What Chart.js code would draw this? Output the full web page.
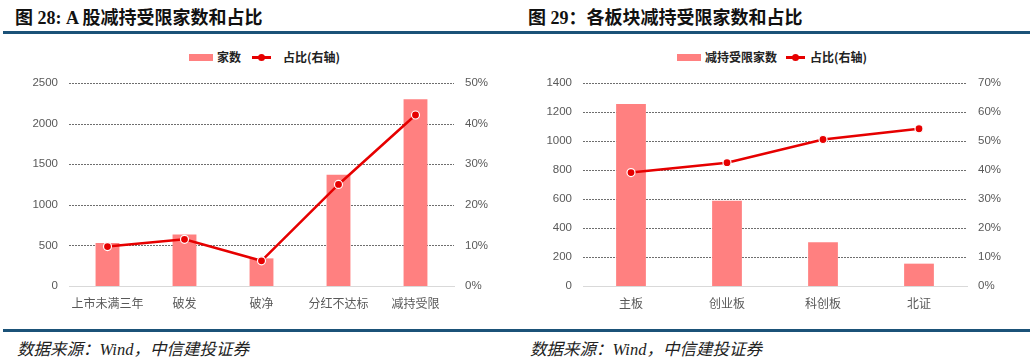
<!DOCTYPE html>
<html>
<head>
<meta charset="utf-8">
<script src="https://cdn.jsdelivr.net/npm/chart.js@4.4.1/dist/chart.umd.min.js"></script>
<style>
  body { margin: 0; width: 1033px; height: 360px; background: #fff; position: relative; overflow: hidden; }
  .rule { position: absolute; left: 3px; width: 1027px; height: 3px; background: #1b5278; }
  .title { position: absolute; top: 3px; font: bold 18px "Liberation Serif", "Noto Sans CJK SC", sans-serif; color: #111; white-space: nowrap; }
  .source { position: absolute; top: 336px; font: italic 16.5px "Liberation Serif", "Noto Sans CJK SC", serif; color: #222; white-space: nowrap; }
  .legend { position: absolute; top: 49px; font: bold 12px "Noto Sans CJK SC", sans-serif; color: #222; white-space: nowrap; line-height: 16px; }
  .swatch { position: absolute; top: 5px; width: 24px; height: 7px; background: #ff8080; }
  .lineKey { position: absolute; top: 7px; width: 19px; height: 2.5px; background: #e60000; }
  .lineKey::after { content: ""; position: absolute; left: 6px; top: -2.5px; width: 7px; height: 7px; border-radius: 50%; background: #e60000; }
  .ltext { position: absolute; top: 0; }
  canvas { position: absolute; top: 65px; }
</style>
</head>
<body>
<div class="rule" style="top:31px"></div>
<div class="rule" style="top:329px"></div>

<div class="title" style="left:15px">图 28: A 股减持受限家数和占比</div>
<div class="title" style="left:528px">图 29：各板块减持受限家数和占比</div>

<div class="legend" style="left:0">
  <div class="swatch" style="left:189px"></div><div class="ltext" style="left:217px">家数</div>
  <div class="lineKey" style="left:252px"></div><div class="ltext" style="left:283px">占比(右轴)</div>
</div>
<div class="legend" style="left:0">
  <div class="swatch" style="left:677px"></div><div class="ltext" style="left:705px">减持受限家数</div>
  <div class="lineKey" style="left:786px"></div><div class="ltext" style="left:810px">占比(右轴)</div>
</div>

<canvas id="chartA" width="520" height="255" style="left:0"></canvas>
<canvas id="chartB" width="513" height="255" style="left:520px"></canvas>

<div class="source" style="left:17px">数据来源：Wind，中信建投证券</div>
<div class="source" style="left:530px">数据来源：Wind，中信建投证券</div>

<script>
// 图 28
const categoriesA = ["上市未满三年", "破发", "破净", "分红不达标", "减持受限"];
const countsA = [530, 635, 340, 1370, 2300];
const ratiosA = [9.7, 11.5, 6.2, 25.0, 42.1];
const leftMaxA = 2500, leftStepA = 500;
const rightMaxA = 50, rightStepA = 10;

// 图 29
const categoriesB = ["主板", "创业板", "科创板", "北证"];
const countsB = [1255, 587, 302, 154];
const ratiosB = [39.1, 42.5, 50.5, 54.2];
const leftMaxB = 1400, leftStepB = 200;
const rightMaxB = 70, rightStepB = 10;

const tickFont = { family: "'Liberation Sans', Arial, sans-serif", size: 11.5 };
const labelFont = { family: "'Noto Sans CJK SC', sans-serif", size: 12 };

// dotted horizontal grid behind the bars, skipping the zero line
const dottedGrid = {
  id: "dottedGrid",
  beforeDatasetsDraw(chart) {
    const { ctx, chartArea, scales } = chart;
    const y = scales.y;
    ctx.save();
    ctx.strokeStyle = "#6e6e6e";
    ctx.lineWidth = 1;
    ctx.setLineDash([2, 1]);
    y.ticks.forEach((tick) => {
      if (tick.value === 0) {
        return;
      }
      const py = Math.round(y.getPixelForValue(tick.value)) + 0.5;
      ctx.beginPath();
      ctx.moveTo(chartArea.left, py);
      ctx.lineTo(chartArea.right, py);
      ctx.stroke();
    });
    ctx.restore();
  }
};

const makeChart = (id, labels, counts, ratios, countLabel, leftMax, leftStep, rightMax, rightStep, leftWidth, rightWidth) => {
  new Chart(document.getElementById(id), {
    data: {
      labels,
      datasets: [
        {
          type: "line",
          label: "占比(右轴)",
          data: ratios,
          yAxisID: "y1",
          borderColor: "#e60000",
          borderWidth: 2.5,
          pointRadius: 4,
          pointBackgroundColor: "#e60000",
          pointBorderColor: "#fff",
          pointBorderWidth: 1.2,
          tension: 0,
          order: 0
        },
        {
          type: "bar",
          label: countLabel,
          data: counts,
          yAxisID: "y",
          backgroundColor: "#ff8080",
          categoryPercentage: 1,
          barPercentage: 0.31,
          order: 1
        }
      ]
    },
    options: {
      responsive: false,
      animation: false,
      layout: { padding: 0 },
      plugins: { legend: { display: false }, tooltip: { enabled: false } },
      scales: {
        x: {
          grid: { display: false, drawTicks: false },
          border: { display: true, color: "#d9d9d9", width: 1 },
          ticks: { color: "#595959", font: labelFont, padding: 10, maxRotation: 0, autoSkip: false },
          afterFit: (scale) => { scale.height = 34; }
        },
        y: {
          position: "left",
          min: 0,
          max: leftMax,
          grid: { display: false, drawTicks: false },
          border: { display: false },
          ticks: { stepSize: leftStep, color: "#595959", font: tickFont, padding: 11, callback: (v) => String(v) },
          afterFit: (scale) => { scale.width = leftWidth; }
        },
        y1: {
          position: "right",
          min: 0,
          max: rightMax,
          grid: { display: false, drawTicks: false },
          border: { display: false },
          ticks: { stepSize: rightStep, color: "#595959", font: tickFont, padding: 11, callback: (v) => v + "%" },
          afterFit: (scale) => { scale.width = rightWidth; }
        }
      }
    },
    plugins: [dottedGrid]
  });
};

makeChart("chartA", categoriesA, countsA, ratiosA, "家数", leftMaxA, leftStepA, rightMaxA, rightStepA, 69, 66);
makeChart("chartB", categoriesB, countsB, ratiosB, "减持受限家数", leftMaxB, leftStepB, rightMaxB, rightStepB, 63, 66);
</script>
</body>
</html>
